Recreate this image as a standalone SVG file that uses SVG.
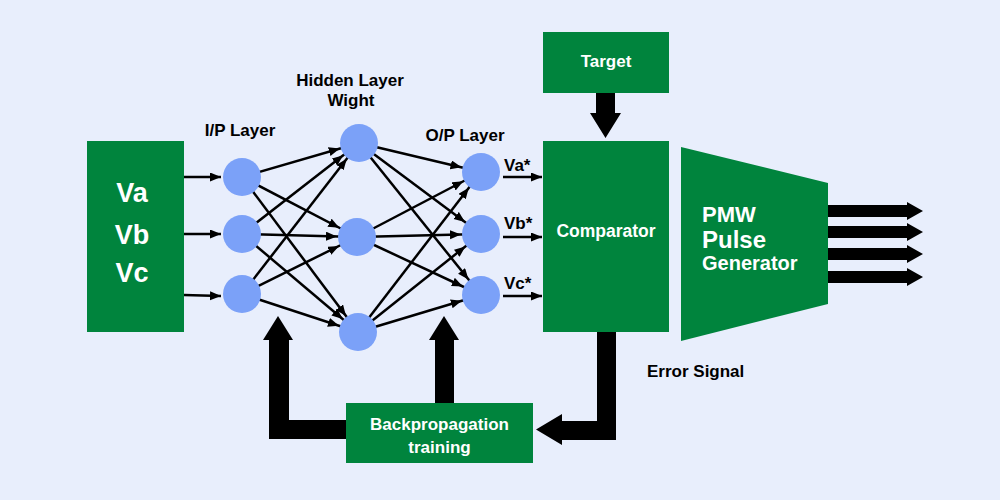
<svg xmlns="http://www.w3.org/2000/svg" width="1000" height="500" viewBox="0 0 1000 500">
<style>
.box{fill:#00843D}
.node{fill:#7BA1F8}
.wt{fill:#fff;font-family:"Liberation Sans",Arial,sans-serif;font-weight:bold}
.bt{fill:#000;font-family:"Liberation Sans",Arial,sans-serif;font-weight:bold;font-size:17px}
.ln{stroke:#000;stroke-width:2.5;fill:none}
.thick{fill:#000}
</style>
<defs>
<marker id="ah" markerUnits="userSpaceOnUse" markerWidth="12" markerHeight="10" refX="11" refY="4.5" orient="auto"><path d="M0,0 L11,4.5 L0,9 z" fill="#000"/></marker>
<marker id="an" markerUnits="userSpaceOnUse" markerWidth="12" markerHeight="10" refX="31" refY="4.5" orient="auto"><path d="M0,0 L11,4.5 L0,9 z" fill="#000"/></marker>
</defs>
<rect width="1000" height="500" fill="#E8EEFC"/>

<g id="connectors">
<line class="ln" x1="184" y1="177" x2="221" y2="177" marker-end="url(#ah)"/>
<line class="ln" x1="184" y1="234" x2="221" y2="234" marker-end="url(#ah)"/>
<line class="ln" x1="184" y1="295" x2="221" y2="296" marker-end="url(#ah)"/>
<g marker-end="url(#an)">
<line class="ln" x1="242" y1="177" x2="359" y2="143"/>
<line class="ln" x1="242" y1="177" x2="357" y2="237"/>
<line class="ln" x1="242" y1="177" x2="358" y2="332"/>
<line class="ln" x1="242" y1="234" x2="359" y2="143"/>
<line class="ln" x1="242" y1="234" x2="357" y2="237"/>
<line class="ln" x1="242" y1="234" x2="358" y2="332"/>
<line class="ln" x1="242" y1="294" x2="359" y2="143"/>
<line class="ln" x1="242" y1="294" x2="357" y2="237"/>
<line class="ln" x1="242" y1="294" x2="358" y2="332"/>
<line class="ln" x1="359" y1="143" x2="481" y2="172"/>
<line class="ln" x1="359" y1="143" x2="481" y2="234"/>
<line class="ln" x1="359" y1="143" x2="481" y2="295"/>
<line class="ln" x1="357" y1="237" x2="481" y2="172"/>
<line class="ln" x1="357" y1="237" x2="481" y2="234"/>
<line class="ln" x1="357" y1="237" x2="481" y2="295"/>
<line class="ln" x1="358" y1="332" x2="481" y2="172"/>
<line class="ln" x1="358" y1="332" x2="481" y2="234"/>
<line class="ln" x1="358" y1="332" x2="481" y2="295"/>
</g>
<line class="ln" x1="503" y1="177" x2="542" y2="177" marker-end="url(#ah)"/>
<line class="ln" x1="503" y1="237" x2="542" y2="237" marker-end="url(#ah)"/>
<line class="ln" x1="503" y1="296" x2="542" y2="296" marker-end="url(#ah)"/>
<polygon class="thick" points="596,93 615,93 615,113 621,113 605.5,138 590,113 596,113"/>
<polygon class="thick" points="828,205 907,205 907,202 923,211 907,220 907,217 828,217"/>
<polygon class="thick" points="828,226 907,226 907,223 923,232 907,241 907,238 828,238"/>
<polygon class="thick" points="828,248 907,248 907,245 923,254 907,263 907,260 828,260"/>
<polygon class="thick" points="828,271 907,271 907,268 923,277 907,286 907,283 828,283"/>
<polygon class="thick" points="597,331 616,331 616,440 562,440 562,445 536,429.5 562,414 562,421 597,421"/>
<polygon class="thick" points="346,420 346,439 269,439 269,340 263,340 278,316 293,340 289,340 289,420"/>
<polygon class="thick" points="435,403 435,340 429,340 444,316 459,340 454,340 454,403"/>
</g>

<g id="input">
<rect class="box" x="87" y="141" width="97" height="191"/>
<text class="wt" x="132" y="202" font-size="27" text-anchor="middle">Va</text>
<text class="wt" x="132" y="244" font-size="27" text-anchor="middle">Vb</text>
<text class="wt" x="132" y="282" font-size="27" text-anchor="middle">Vc</text>
</g>

<g id="ip-layer">
<circle class="node" cx="242" cy="177" r="19"/>
<circle class="node" cx="242" cy="234" r="19"/>
<circle class="node" cx="242" cy="294" r="19"/>
<text class="bt" x="240" y="136" text-anchor="middle">I/P Layer</text>
</g>

<g id="hidden-layer">
<circle class="node" cx="359" cy="143" r="19"/>
<circle class="node" cx="357" cy="237" r="19"/>
<circle class="node" cx="358" cy="332" r="19"/>
<text class="bt" x="350" y="86" text-anchor="middle">Hidden Layer</text>
<text class="bt" x="351" y="106" text-anchor="middle">Wight</text>
</g>

<g id="op-layer">
<circle class="node" cx="481" cy="172" r="19"/>
<circle class="node" cx="481" cy="234" r="19"/>
<circle class="node" cx="481" cy="295" r="19"/>
<text class="bt" x="465" y="141" text-anchor="middle">O/P Layer</text>
<text class="bt" x="504" y="171">Va*</text>
<text class="bt" x="504" y="229">Vb*</text>
<text class="bt" x="504" y="289">Vc*</text>
</g>

<g id="target">
<rect class="box" x="543" y="32" width="126" height="61"/>
<text class="wt" x="606" y="67" font-size="17" text-anchor="middle">Target</text>
</g>

<g id="comparator">
<rect class="box" x="543" y="141" width="126" height="191"/>
<text class="wt" x="606" y="237" font-size="17.5" text-anchor="middle">Comparator</text>
</g>

<g id="pwm">
<polygon class="box" points="681,147 828,183 828,304 681,341"/>
<text class="wt" x="702" y="222" font-size="22">PMW</text>
<text class="wt" x="702" y="248" font-size="24">Pulse</text>
<text class="wt" x="702" y="270" font-size="20">Generator</text>
</g>

<g id="error-label">
<text class="bt" x="647" y="377">Error Signal</text>
</g>

<g id="backprop">
<rect class="box" x="346" y="403" width="187" height="60"/>
<text class="wt" x="439.5" y="430" font-size="17" text-anchor="middle">Backpropagation</text>
<text class="wt" x="439.5" y="453" font-size="17" text-anchor="middle">training</text>
</g>
</svg>
